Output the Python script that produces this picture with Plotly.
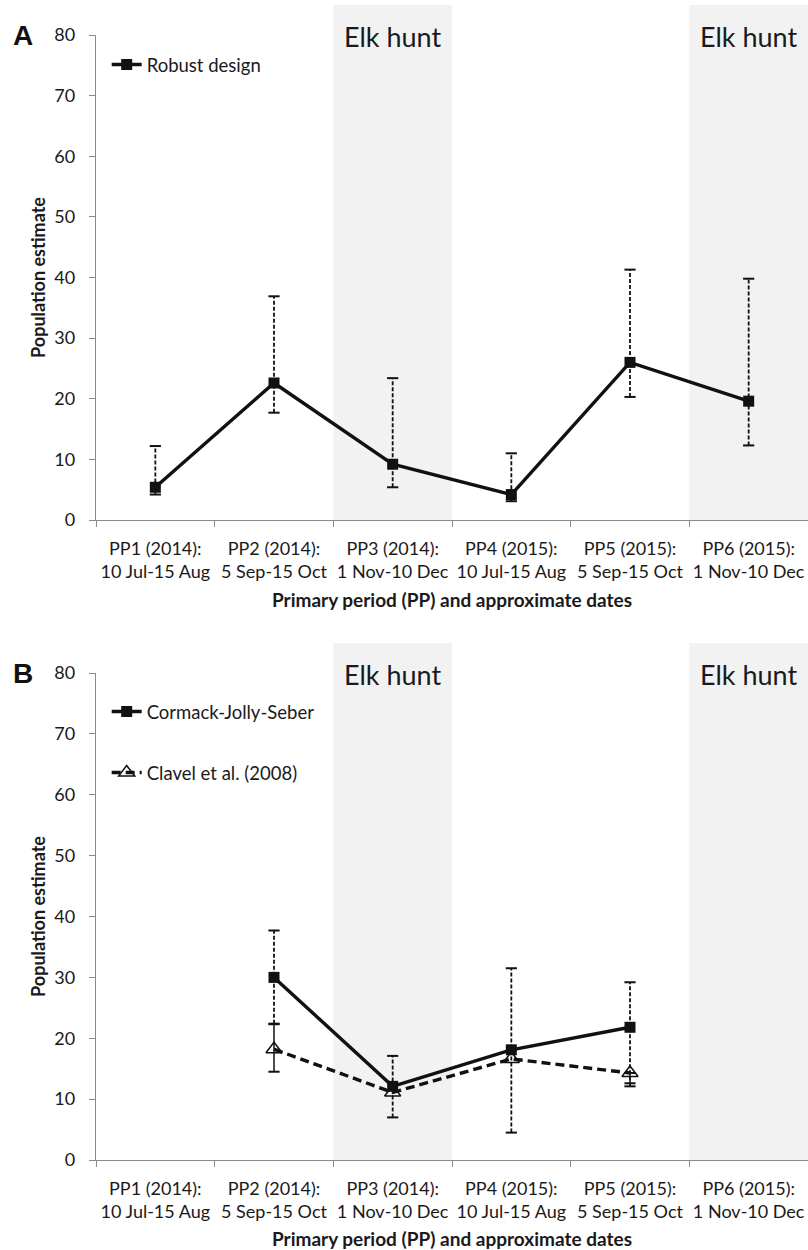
import plotly.graph_objects as go

# ---------------- data ----------------
periods = [
    "PP1 (2014):<br>10 Jul-15 Aug",
    "PP2 (2014):<br>5 Sep-15 Oct",
    "PP3 (2014):<br>1 Nov-10 Dec",
    "PP4 (2015):<br>10 Jul-15 Aug",
    "PP5 (2015):<br>5 Sep-15 Oct",
    "PP6 (2015):<br>1 Nov-10 Dec",
]
hunt_idx = [2, 5]

rd_est = [5.4, 22.6, 9.2, 4.2, 26.0, 19.6]
rd_lo = [4.2, 17.7, 5.4, 3.1, 20.3, 12.3]
rd_hi = [12.2, 36.9, 23.4, 11.0, 41.3, 39.8]

cjs_est = [None, 30.0, 12.1, 18.1, 21.8, None]
cjs_lo = [None, 22.4, 7.0, 4.5, 12.1, None]
cjs_hi = [None, 37.7, 17.1, 31.5, 29.2, None]

cl_est = [None, 18.2, 11.1, 16.6, 14.3, None]
cl_lo = [None, 14.5, None, None, 12.6, None]
cl_hi = [None, 22.3, None, None, 14.3, None]

FONT = "Lato"
TXT = "#1a1a1a"
AX = "#8a8a8a"

fig = go.Figure()


def err_traces(est, lo, hi, xa, ya, dash, width):
    xs, ys, cx, cy = [], [], [], []
    for p, e, l, h in zip(periods, est, lo, hi):
        if e is None or l is None or h is None:
            continue
        xs += [p, p, None]
        ys += [l, h, None]
        cx += [p, p]
        cy += [l, h]
    fig.add_trace(go.Scatter(x=xs, y=ys, mode="lines", xaxis=xa, yaxis=ya,
                             line=dict(color="#111", width=width, dash=dash),
                             showlegend=False, hoverinfo="skip"))
    fig.add_trace(go.Scatter(x=cx, y=cy, mode="markers", xaxis=xa, yaxis=ya,
                             marker=dict(symbol="line-ew", size=8,
                                         line=dict(color="#111", width=2)),
                             showlegend=False, hoverinfo="skip"))


# Panel A
err_traces(rd_est, rd_lo, rd_hi, "x", "y", "4px,2px", 1.8)
fig.add_trace(go.Scatter(x=periods, y=rd_est, mode="lines+markers", name="Robust design",
                         xaxis="x", yaxis="y", legend="legend",
                         line=dict(color="#111", width=3.4),
                         marker=dict(symbol="square", size=11, color="#111")))

# Panel B
err_traces(cjs_est, cjs_lo, cjs_hi, "x2", "y2", "4px,2px", 1.8)
err_traces(cl_est, cl_lo, cl_hi, "x2", "y2", "solid", 1.5)
fig.add_trace(go.Scatter(x=periods, y=cjs_est, mode="lines+markers", name="Cormack-Jolly-Seber",
                         xaxis="x2", yaxis="y2", legend="legend2",
                         line=dict(color="#111", width=3.4),
                         marker=dict(symbol="square", size=11, color="#111")))
fig.add_trace(go.Scatter(x=periods, y=cl_est, mode="lines+markers", name="Clavel et al. (2008)",
                         xaxis="x2", yaxis="y2", legend="legend3",
                         line=dict(color="#111", width=3.4, dash="9px,5px"),
                         marker=dict(symbol="triangle-up-open", size=14, color="#111",
                                     line=dict(width=1.5, color="#111"))))

# shading + Elk hunt labels
shapes, annos = [], []
for xa, ya, yd in [("x", "y", "y domain"), ("x2", "y2", "y2 domain")]:
    for i in hunt_idx:
        shapes.append(dict(type="rect", xref=xa, yref=yd, x0=i - 0.5, x1=i + 0.5,
                           y0=0, y1=1 + 30 / 485, fillcolor="#f2f2f2",
                           line=dict(width=0), layer="below"))
        annos.append(dict(x=i, y=80, xref=xa, yref=ya, text="Elk hunt", showarrow=False,
                          font=dict(family=FONT, size=27, color=TXT),
                          xanchor="center", yanchor="middle", yshift=-1))

L = 96
annos.append(dict(x=-L / 712, y=1.0, xref="paper", yref="paper", text="<b>A</b>",
                  showarrow=False, xanchor="left", yanchor="middle", xshift=11,
                  font=dict(family="Liberation Sans", size=28, color="#111")))
annos.append(dict(x=-L / 712, y=487 / 1125, xref="paper", yref="paper", text="<b>B</b>",
                  showarrow=False, xanchor="left", yanchor="middle", xshift=11,
                  font=dict(family="Liberation Sans", size=28, color="#111")))

xaxis_common = dict(
    type="category", categoryorder="array", categoryarray=periods,
    range=[-0.5, 5.5], tickson="boundaries", ticks="outside", ticklen=6,
    tickcolor=AX, showline=True, linecolor=AX, linewidth=1.3, showgrid=False,
    tickangle=0, ticklabelstandoff=12,
    tickfont=dict(family=FONT, size=18, color=TXT), zeroline=False, automargin=False,
    title=dict(text="<b>Primary period (PP) and approximate dates</b>",
               font=dict(family=FONT, size=19, color=TXT), standoff=12),
)
yaxis_common = dict(
    range=[0, 80], dtick=10, ticks="outside", ticklen=6, tickcolor=AX,
    showline=True, linecolor=AX, linewidth=1.3, showgrid=False, zeroline=False,
    tickfont=dict(family=FONT, size=18, color=TXT), ticklabelstandoff=10, automargin=False,
    title=dict(text="<b>Population estimate</b>",
               font=dict(family=FONT, size=18, color=TXT), standoff=4),
)

H = 1125
LF = dict(family=FONT, size=18.5, color=TXT)
fig.update_layout(
    width=808, height=1250,
    margin=dict(l=L, r=0, t=35, b=90),
    paper_bgcolor="white", plot_bgcolor="rgba(0,0,0,0)",
    xaxis=dict(domain=[0, 1], anchor="y", **xaxis_common),
    yaxis=dict(domain=[640 / H, 1.0], anchor="x", **yaxis_common),
    xaxis2=dict(domain=[0, 1], anchor="y2", **xaxis_common),
    yaxis2=dict(domain=[0, 487 / H], anchor="x2", **yaxis_common),
    shapes=shapes, annotations=annos,
    legend=dict(x=0.015, y=(1160 - 65) / H, xanchor="left", yanchor="middle",
                bgcolor="rgba(0,0,0,0)", font=LF, itemwidth=30),
    legend2=dict(x=0.015, y=(1160 - 712) / H, xanchor="left", yanchor="middle",
                 bgcolor="rgba(0,0,0,0)", font=LF, itemwidth=30),
    legend3=dict(x=0.015, y=(1160 - 773) / H, xanchor="left", yanchor="middle",
                 bgcolor="rgba(0,0,0,0)", font=LF, itemwidth=30),
)

fig.write_html("out.html", config={"displayModeBar": False},
               post_script="document.body.style.margin='0';document.body.style.overflow='hidden';")
